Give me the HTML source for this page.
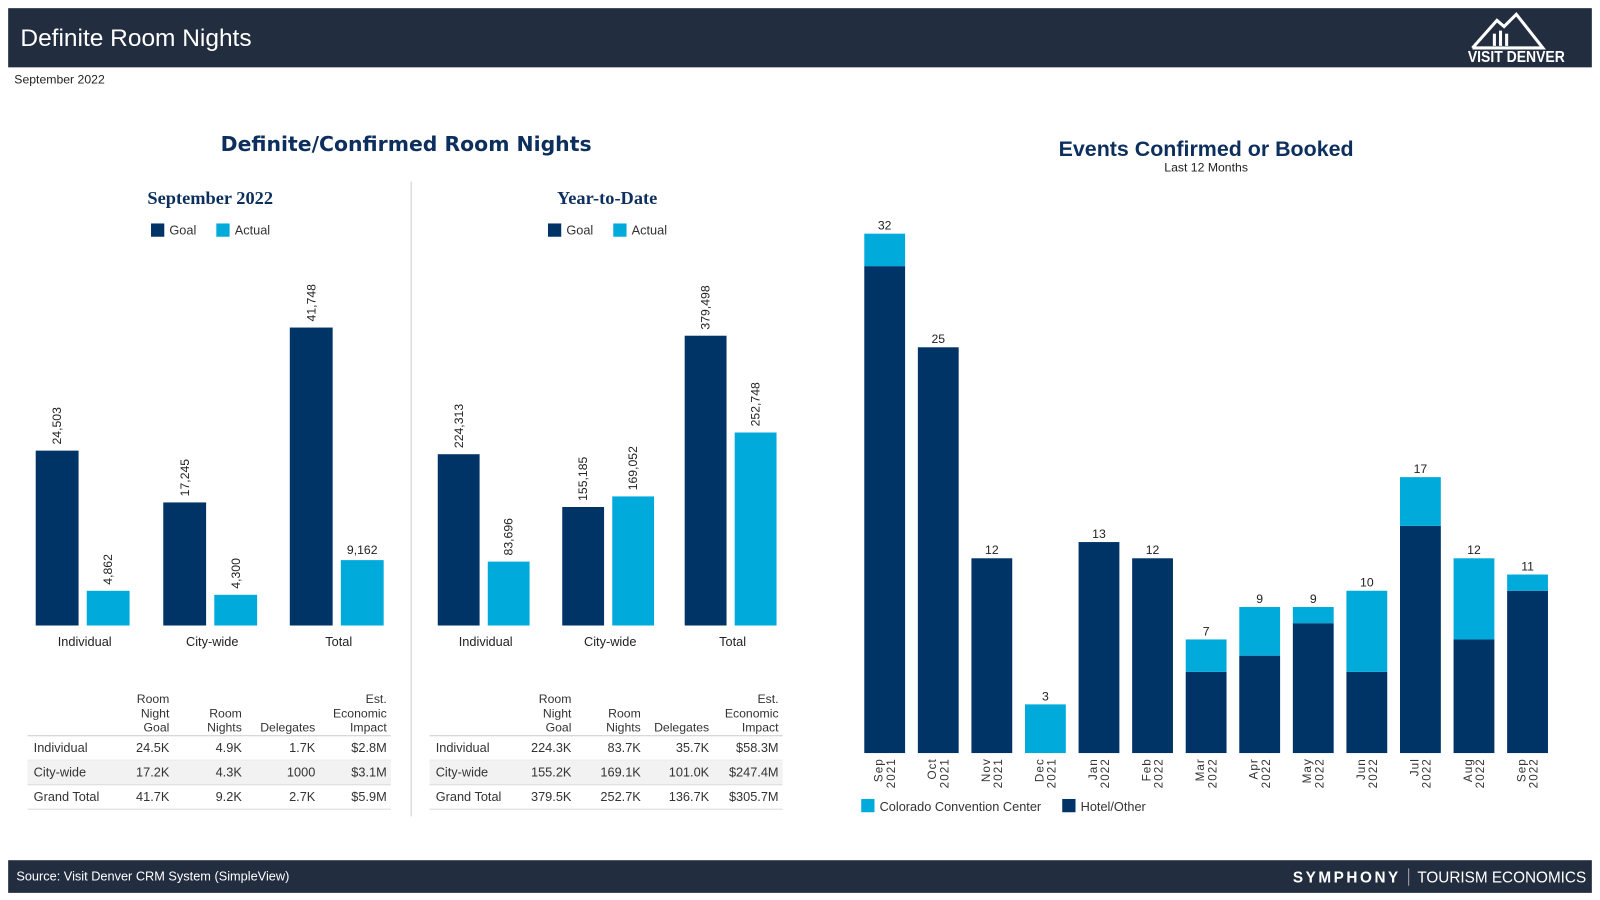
<!DOCTYPE html>
<html><head><meta charset="utf-8"><style>
html,body{margin:0;padding:0;background:#fff;width:1600px;height:900px;overflow:hidden}
svg{display:block}
text{font-family:"Liberation Sans","DejaVu Sans",sans-serif}
</style></head><body>
<svg id="root" width="1600" height="900" viewBox="0 0 1568 882" preserveAspectRatio="none" xmlns="http://www.w3.org/2000/svg">
  <rect x="8" y="8" width="1552" height="58" fill="#232d40"/>
  <text x="20" y="45" font-size="24" fill="#fff">Definite Room Nights</text>
  <g>
    <polyline points="1443,47 1467,20 1474,26 1486,14 1512,47 1443,47" fill="none" stroke="#fff" stroke-width="3"/>
    <rect x="1463" y="33" width="3" height="12" fill="#fff"/><rect x="1469" y="30" width="3" height="15" fill="#fff"/><rect x="1475" y="33" width="3" height="12" fill="#fff"/>
    <text x="1486" y="61" font-size="15" font-weight="bold" fill="#fff" text-anchor="middle" textLength="95" lengthAdjust="spacingAndGlyphs">VISIT DENVER</text>
  </g>
  <text x="14" y="82" font-size="12" fill="#222">September 2022</text>

  <rect x="8" y="843" width="1552" height="32" fill="#232d40"/>
  <text x="16" y="863" font-size="12.5" fill="#fff">Source: Visit Denver CRM System (SimpleView)</text>
  <text x="1267" y="865" font-size="15" font-weight="bold" fill="#fff" letter-spacing="2.5">SYMPHONY</text>
  <rect x="1380" y="851" width="1" height="17" fill="#aaa"/>
  <text x="1389" y="865" font-size="15" fill="#fff">TOURISM ECONOMICS</text>

  <text x="398" y="148" font-size="20" font-weight="bold" fill="#0d2f5e" text-anchor="middle" style="font-family:'DejaVu Sans',sans-serif">Definite/Confirmed Room Nights</text>
  <line x1="403" y1="178" x2="403" y2="800" stroke="#ddd" stroke-width="1.5"/>
  <g id="left"></g>
  <g id="right"></g>
</svg>
<script>
const NS='http://www.w3.org/2000/svg';
const groups=['Individual','City-wide','Total'];
const monthGoal=[24503,17245,41748];
const monthActual=[4862,4300,9162];
const ytdGoal=[224313,155185,379498];
const ytdActual=[83696,169052,252748];
const tableRows=['Individual','City-wide','Grand Total'];
const monthTable=[['24.5K','4.9K','1.7K','$2.8M'],['17.2K','4.3K','1000','$3.1M'],['41.7K','9.2K','2.7K','$5.9M']];
const ytdTable=[['224.3K','83.7K','35.7K','$58.3M'],['155.2K','169.1K','101.0K','$247.4M'],['379.5K','252.7K','136.7K','$305.7M']];
const months=['Sep','Oct','Nov','Dec','Jan','Feb','Mar','Apr','May','Jun','Jul','Aug','Sep'];
const years=['2021','2021','2021','2021','2022','2022','2022','2022','2022','2022','2022','2022','2022'];
const hotel=[30,25,12,0,13,12,5,6,8,5,14,7,10];
const ccc=[2,0,0,3,0,0,2,3,1,5,3,5,1];
const NAVY='#003366',LIGHT='#00aadb';
function el(tag,attrs,parent,txt){const e=document.createElementNS(NS,tag);for(const k in attrs)e.setAttribute(k,attrs[k]);if(txt!==undefined)e.textContent=txt;parent.appendChild(e);return e;}
const L=document.getElementById('left'),R=document.getElementById('right');

function panel(title,cx,goal,act,max,topY,xs,bw,table,tx,cols,tw,flatLabels){
  let t=el('text',{x:cx,y:200,'font-size':18,'font-weight':'bold',fill:'#0d2f5e','text-anchor':'middle',style:"font-family:'Liberation Serif',serif"},L,title);
  
  
  const lg=el('g',{},L);
  
  
  el('rect',{x:cx-58,y:219,width:13,height:13,fill:NAVY},lg);
  el('text',{x:cx-40,y:230,'font-size':12.5,fill:'#333'},lg,'Goal');
  el('rect',{x:cx+6,y:219,width:13,height:13,fill:LIGHT},lg);
  el('text',{x:cx+24,y:230,'font-size':12.5,fill:'#333'},lg,'Actual');
  const base=613;
  const y=v=>base-(base-topY)*v/max;
  groups.forEach((g,i)=>{
    [[goal[i],NAVY,xs[i],'goal'],[act[i],LIGHT,xs[i]+bw+8,'actual']].forEach(([v,c,x,k])=>{
      const r=el('rect',{x:x,y:y(v),width:bw,height:base-y(v),fill:c},L);
      
      
      let lb;
      if(flatLabels && k==='actual' && i===2){
        lb=el('text',{x:x+bw/2,y:y(v)-6,'font-size':12,fill:'#222','text-anchor':'middle'},L,v.toLocaleString('en-US'));
      } else {
        const lx=x+bw/2+4,ly=y(v)-6;
        lb=el('text',{x:lx,y:ly,'font-size':12,fill:'#222',transform:`rotate(-90 ${lx} ${ly})`},L,v.toLocaleString('en-US'));
      }
      
      
    });
    const cl=el('text',{x:xs[i]+bw+6,y:633,'font-size':12.5,fill:'#222','text-anchor':'middle'},L,g);
    
    
  });
  const tg=el('g',{},L);
  
  
  const heads=[['Room','Night','Goal'],['','Room','Nights'],['','','Delegates'],['Est.','Economic','Impact']];
  heads.forEach((h,j)=>h.forEach((s,k)=>{if(s)el('text',{x:cols[j],y:689+k*14,'font-size':12,fill:'#333','text-anchor':'end'},tg,s);}));
  el('line',{x1:tx,y1:721,x2:tx+tw,y2:721,stroke:'#ccc'},tg);
  tableRows.forEach((rn,i)=>{
    const ry=721+i*24;
    if(i===1)el('rect',{x:tx,y:ry,width:tw,height:24,fill:'#f2f2f2'},tg);
    el('line',{x1:tx,y1:ry+24,x2:tx+tw,y2:ry+24,stroke:'#ddd'},tg);
    el('text',{x:tx+6,y:ry+16,'font-size':12.5,fill:'#333'},tg,rn);
    table[i].forEach((v,j)=>el('text',{x:cols[j],y:ry+16,'font-size':12.5,fill:'#333','text-anchor':'end'},tg,v));
  });
}
panel('September 2022',206,monthGoal,monthActual,41748,321,[35,160,284],42,monthTable,27,[166,237,309,379],356,true);
panel('Year-to-Date',595,ytdGoal,ytdActual,379498,329,[429,551,671],41,ytdTable,421,[560,628,695,763],346,false);

let t=el('text',{x:1182,y:153,'font-size':21,'font-weight':'bold',fill:'#0d2f5e','text-anchor':'middle'},R,'Events Confirmed or Booked');


t=el('text',{x:1182,y:168,'font-size':12,fill:'#222','text-anchor':'middle'},R,'Last 12 Months');


const base=738,unit=(738-229)/32,x0=847,step=52.5,bw=40;
const yv=v=>base-v*unit;
months.forEach((m,i)=>{
  const x=x0+i*step,h=hotel[i],c=ccc[i];
  if(h>0){const r=el('rect',{x:x,y:yv(h),width:bw,height:base-yv(h),fill:NAVY},R);
    
    }
  if(c>0){const r=el('rect',{x:x,y:yv(h+c),width:bw,height:yv(h)-yv(h+c),fill:LIGHT},R);
    
    }
  const tl=el('text',{x:x+bw/2,y:yv(h+c)-4,'font-size':12,fill:'#222','text-anchor':'middle'},R,String(h+c));
  
  
  const lx=x+bw/2,ly=743;
  const xl=el('text',{x:lx,y:ly,'font-size':11.5,fill:'#333','text-anchor':'end',transform:`rotate(-90 ${lx} ${ly})`,'letter-spacing':'1'},R);
  
  
  el('tspan',{x:lx,dy:-2},xl,m);
  el('tspan',{x:lx,dy:12},xl,years[i]);
});
const lg=el('g',{},R);


el('rect',{x:844,y:783,width:13,height:13,fill:LIGHT},lg);
el('text',{x:862,y:795,'font-size':12.5,fill:'#333'},lg,'Colorado Convention Center');
el('rect',{x:1041,y:783,width:13,height:13,fill:NAVY},lg);
el('text',{x:1059,y:795,'font-size':12.5,fill:'#333'},lg,'Hotel/Other');
</script>
</body></html>
